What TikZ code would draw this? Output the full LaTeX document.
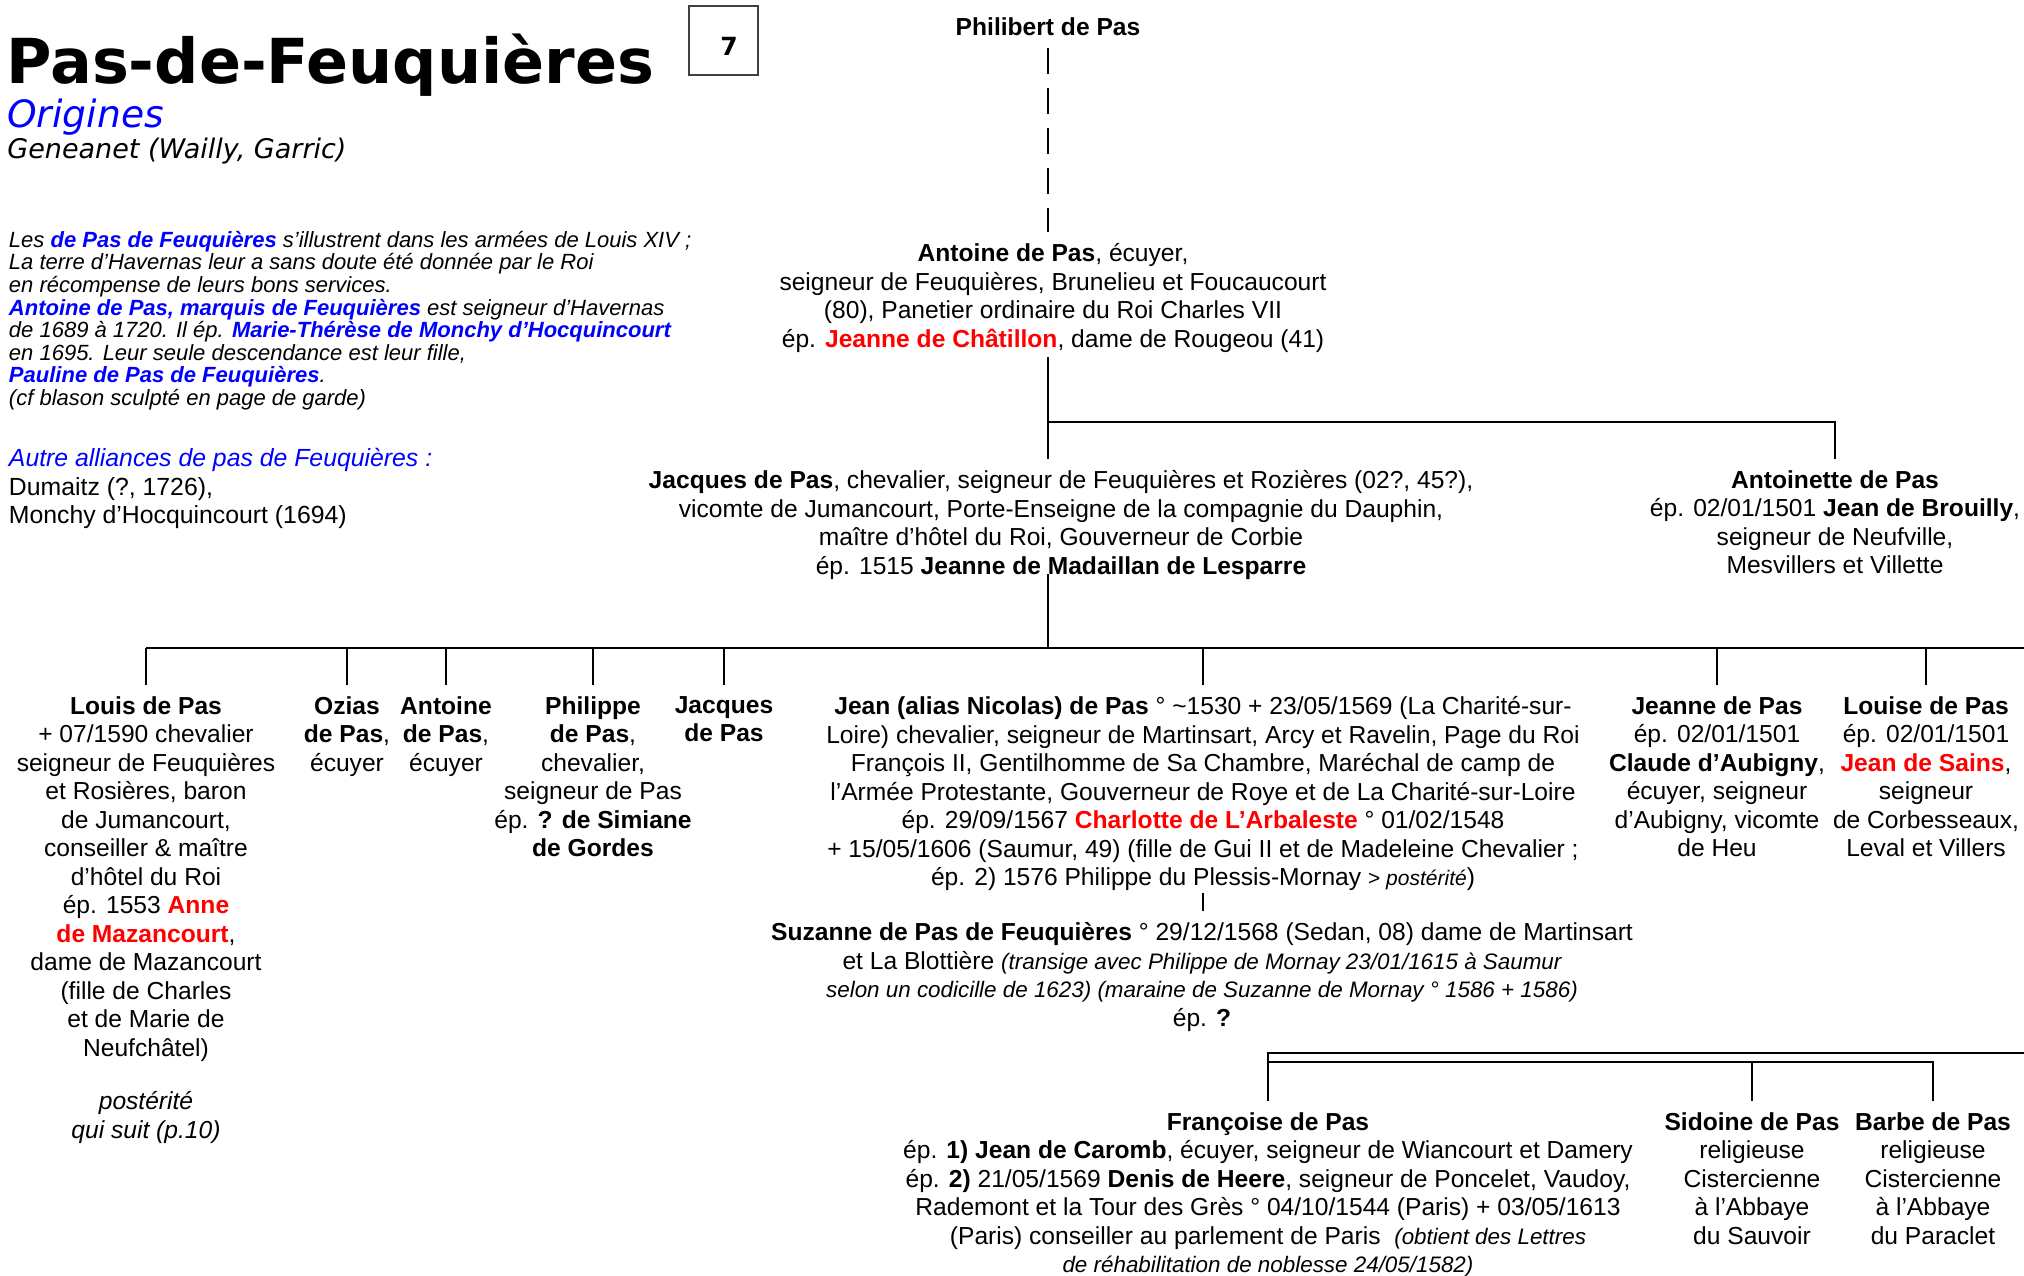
\documentclass[tikz,border=0pt]{standalone}
\usepackage{fontspec}
\setmainfont{Liberation Sans}
\newfontfamily\dejavu{DejaVu Sans}
\definecolor{myblue}{RGB}{0,0,255}
\definecolor{myred}{RGB}{255,0,0}
\newcommand\pred[1]{\textcolor{myred}{\textbf{#1}}}
\newcommand\pblue[1]{\textcolor{myblue}{\textbf{#1}}}
\newcommand\smit{\fontsize{11.2pt}{14.25pt}\selectfont\itshape}
\tikzset{
  person/.style={inner sep=0pt, outer xsep=0pt, outer ysep=6pt, align=center, anchor=north,
    font=\fontsize{12.3pt}{14.25pt}\selectfont},
  link/.style={line width=1.1pt, black},
  dashlink/.style={line width=1.1pt, black, dash pattern=on 13.35pt off 6.65pt},
  note/.style={inner sep=0pt, outer sep=0pt, align=left, anchor=north west},
}
\begin{document}
\begin{tikzpicture}[x=0.5pt, y=-0.5pt]
\fill[white] (0,0) rectangle (2024,1275);
\useasboundingbox (0,0) rectangle (2024,1275);

% header
\node (title) [inner sep=0pt, anchor=base west] at (6,83)
  {\dejavu\bfseries\fontsize{31pt}{31pt}\selectfont Pas-de-Feuquières};
\node (box7) [draw=black!75, line width=0.6pt, minimum width=34.5pt, minimum height=34.5pt, inner sep=0pt] at (723.5,40.5) {};
\node (seven) [inner sep=0pt, anchor=base] at (729,55) {\dejavu\bfseries\fontsize{12.5pt}{12.5pt}\selectfont 7};
\node (origines) [inner sep=0pt, anchor=base west] at (7,127)
  {\dejavu\itshape\fontsize{18.8pt}{18.8pt}\selectfont\color{myblue}Origines};
\node (geneanet) [inner sep=0pt, anchor=base west] at (7,158)
  {\dejavu\itshape\fontsize{13.5pt}{13.5pt}\selectfont Geneanet (Wailly, Garric)};

\node (para) [note, font=\fontsize{11pt}{11.3pt}\selectfont\itshape] at (9,231) {%
Les \pblue{de Pas de Feuquières} s’illustrent dans les armées de Louis XIV ;\\
La terre d’Havernas leur a sans doute été donnée par le Roi\\
en récompense de leurs bons services.\\
\pblue{Antoine de Pas, marquis de Feuquières} est seigneur d’Havernas\\
de 1689 à 1720. Il ép. \pblue{Marie-Thérèse de Monchy d’Hocquincourt}\\
en 1695. Leur seule descendance est leur fille,\\
\pblue{Pauline de Pas de Feuquières}.\\
(cf blason sculpté en page de garde)};

\node (autres) [note, font=\fontsize{12.4pt}{14.25pt}\selectfont] at (9,448.5) {%
\textcolor{myblue}{\itshape Autre alliances de pas de Feuquières :}\\
Dumaitz (?, 1726),\\
Monchy d’Hocquincourt (1694)};

% generation 1-2
\node (philibert) [person] at (1048,5.5) {\textbf{Philibert de Pas}};
\node (antoine) [person] at (1053,231.5) {%
\textbf{Antoine de Pas}, écuyer,\\
seigneur de Feuquières, Brunelieu et Foucaucourt\\
(80), Panetier ordinaire du Roi Charles VII\\
ép. \pred{Jeanne de Châtillon}, dame de Rougeou (41)};

% generation 3
\node (jacques) [person] at (1061,458.5) {%
\textbf{Jacques de Pas}, chevalier, seigneur de Feuquières et Rozières (02?, 45?),\\
vicomte de Jumancourt, Porte-Enseigne de la compagnie du Dauphin,\\
maître d’hôtel du Roi, Gouverneur de Corbie\\
ép. 1515 \textbf{Jeanne de Madaillan de Lesparre}};
\node (antoinette) [person] at (1835,458.5) {%
\textbf{Antoinette de Pas}\\
ép. 02/01/1501 \textbf{Jean de Brouilly},\\
seigneur de Neufville,\\
Mesvillers et Villette};

% generation 4
\node (louis) [person] at (146,684.5) {%
\textbf{Louis de Pas}\\
+ 07/1590 chevalier\\
seigneur de Feuquières\\
et Rosières, baron\\
de Jumancourt,\\
conseiller \& maître\\
d’hôtel du Roi\\
ép. 1553 \pred{Anne}\\
\pred{de Mazancourt},\\
dame de Mazancourt\\
(fille de Charles\\
et de Marie de\\
Neufchâtel)\\[12.5pt]
\textit{postérité}\\
\textit{qui suit (p.10)}};
\node (ozias) [person] at (347,684.5) {\textbf{Ozias}\\\textbf{de Pas},\\écuyer};
\node (antoineB) [person] at (446,684.5) {\textbf{Antoine}\\\textbf{de Pas},\\écuyer};
\node (philippe) [person] at (593,684.5) {%
\textbf{Philippe}\\\textbf{de Pas},\\chevalier,\\seigneur de Pas\\ép. \textbf{? de Simiane}\\\textbf{de Gordes}};
\node (jacquesB) [person] at (724,684.5) {\textbf{Jacques}\\\textbf{de Pas}};
\node (jean) [person] at (1203,684.5) {%
\textbf{Jean (alias Nicolas) de Pas} ° \textasciitilde1530 + 23/05/1569 (La Charité-sur-\\
Loire) chevalier, seigneur de Martinsart, Arcy et Ravelin, Page du Roi\\
François II, Gentilhomme de Sa Chambre, Maréchal de camp de\\
l’Armée Protestante, Gouverneur de Roye et de La Charité-sur-Loire\\
ép. 29/09/1567 \pred{Charlotte de L’Arbaleste} ° 01/02/1548\\
+ 15/05/1606 (Saumur, 49) (fille de Gui II et de Madeleine Chevalier ;\\
ép. 2) 1576 Philippe du Plessis-Mornay {\fontsize{10.5pt}{14.25pt}\selectfont > \textit{postérité}})};
\node (jeanne) [person] at (1717,684.5) {%
\textbf{Jeanne de Pas}\\ép. 02/01/1501\\\textbf{Claude d’Aubigny},\\écuyer, seigneur\\d’Aubigny, vicomte\\de Heu};
\node (louise) [person] at (1926,684.5) {%
\textbf{Louise de Pas}\\ép. 02/01/1501\\\pred{Jean de Sains},\\seigneur\\de Corbesseaux,\\Leval et Villers};

% generation 5
\node (suzanne) [person] at (1202,910.5) {%
\textbf{Suzanne de Pas de Feuquières} ° 29/12/1568 (Sedan, 08) dame de Martinsart\\
et La Blottière {\smit (transige avec Philippe de Mornay 23/01/1615 à Saumur}\\
{\smit selon un codicille de 1623) (maraine de Suzanne de Mornay ° 1586 + 1586)}\\
ép. \textbf{?}};

% generation 6
\node (francoise) [person] at (1268,1100.5) {%
\textbf{Françoise de Pas}\\
ép. \textbf{1) Jean de Caromb}, écuyer, seigneur de Wiancourt et Damery\\
ép. \textbf{2)} 21/05/1569 \textbf{Denis de Heere}, seigneur de Poncelet, Vaudoy,\\
Rademont et la Tour des Grès ° 04/10/1544 (Paris) + 03/05/1613\\
(Paris) conseiller au parlement de Paris \ {\smit (obtient des Lettres}\\
{\smit de réhabilitation de noblesse 24/05/1582)}};
\node (sidoine) [person] at (1752,1100.5) {%
\textbf{Sidoine de Pas}\\religieuse\\Cistercienne\\à l’Abbaye\\du Sauvoir};
\node (barbe) [person] at (1933,1100.5) {%
\textbf{Barbe de Pas}\\religieuse\\Cistercienne\\à l’Abbaye\\du Paraclet};

% connectors
\coordinate (tA) at (1048,422);
\coordinate (tJ) at (1048,648);
\coordinate (barR) at (2024,648);
\coordinate (dTop) at (1268,1053);
\coordinate (dTopR) at (2024,1053);
\coordinate (dLow) at (1268,1062);

\draw[dashlink] (philibert.south -| tA) -- (antoine.north -| tA);
\draw[link] ([yshift=3.5pt]antoine.south -| tA) -- (jacques.north -| tA);
\draw[link] (tA) -| (antoinette.north);
\draw[link] ([yshift=8.5pt]jacques.south -| tJ) -- (tJ);
\draw[link] (louis.north |- tJ) -- (barR);
\foreach \n in {louis, ozias, antoineB, philippe, jacquesB, jean, jeanne, louise}
  \draw[link] (\n.north |- tJ) -- (\n.north);
\draw[link] ([yshift=5pt]jean.south) -- (jean.south |- suzanne.north);
\draw[link] (dTopR) -- (francoise.north |- dTop) -- (francoise.north);
\draw[link] (francoise.north |- dLow) -| (barbe.north);
\draw[link] (sidoine.north |- dLow) -- (sidoine.north);
\end{tikzpicture}
\end{document}
